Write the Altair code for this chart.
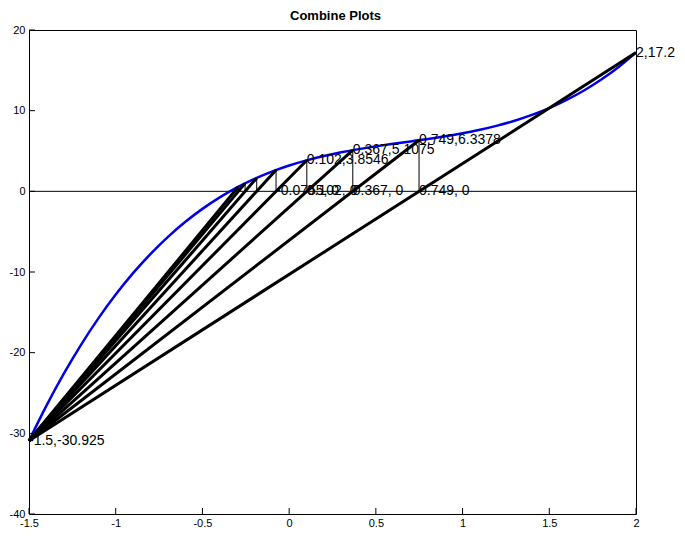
import altair as alt
import pandas as pd

# Blue curve, points
curve_x = [-1.5, -1.4, -1.3, -1.2, -1.1, -1.0, -0.9, -0.8, -0.7, -0.6, -0.5, -0.4,
           -0.3, -0.2, -0.1, 0.0, 0.1, 0.2, 0.3, 0.4, 0.5, 0.6, 0.7, 0.8, 0.9, 1.0,
           1.1, 1.2, 1.3, 1.4, 1.5, 1.6, 1.7, 1.8, 1.9, 2.0]
curve_y = [-30.925, -26.592, -22.631, -19.024, -15.753, -12.8, -10.147, -7.776,
           -5.669, -3.808, -2.175, -0.752, 0.479, 1.536, 2.437, 3.2, 3.843, 4.384,
           4.841, 5.232, 5.575, 5.888, 6.189, 6.496, 6.827, 7.2, 7.633, 8.144, 8.751,
           9.472, 10.325, 11.328, 12.499, 13.856, 15.417, 17.2]

# Secant lines from the fixed end point to each successive point
anchor_x = -1.5
anchor_y = -30.925
secant_bx = [2.0, 0.749, 0.367, 0.102, -0.0755, -0.187, -0.254, -0.293]
secant_by = [17.2, 6.3378, 5.1075, 3.8546, 2.636, 1.658, 0.984, 0.563]

# Vertical drop lines at each root estimate
root_x = [0.749, 0.367, 0.102, -0.0755, -0.187, -0.254, -0.293]
root_y = [6.3378, 5.1075, 3.8546, 2.636, 1.658, 0.984, 0.563]

# Text labels
label_x = [2.0, -1.5, 0.749, 0.367, 0.102, 0.749, 0.367, 0.102, -0.0755]
label_y = [17.2, -30.925, 6.3378, 5.1075, 3.8546, 0, 0, 0, 0]
label_text = ["2,17.2", "-1.5,-30.925", "0.749,6.3378", "0.367,5.1075",
              "0.102,3.8546", "0.749, 0", "0.367, 0", "0.102, 0", "-0.0755, 0"]

title_text = ["Combine Plots"]

x_ticks = [-1.5, -1.0, -0.5, 0.0, 0.5, 1.0, 1.5, 2.0]
y_ticks = [-40, -30, -20, -10, 0, 10, 20]

W, H = 607, 484
FONT = "Liberation Sans"

xs = alt.Scale(domain=[-1.5, 2], nice=False)
ys = alt.Scale(domain=[-40, 20], nice=False)

curve_df = pd.DataFrame({"x": curve_x, "y": curve_y})
sec_df = pd.DataFrame({"x": [anchor_x] * len(secant_bx), "y": [anchor_y] * len(secant_bx),
                       "x2": secant_bx, "y2": secant_by})
root_df = pd.DataFrame({"x": root_x, "y": [0] * len(root_x), "y2": root_y})
lab_df = pd.DataFrame({"x": label_x, "y": label_y, "t": label_text})
xt_df = pd.DataFrame({"x": x_ticks})
yt_df = pd.DataFrame({"y": y_ticks})
zero_df = pd.DataFrame({"y": [0]})
title_df = pd.DataFrame({"t": title_text})

xaxis = alt.Axis(values=x_ticks, ticks=False, domain=False, grid=False, labelFontSize=11,
                 labelPadding=3, labelFlush=False, labelColor="black", labelFont=FONT,
                 title=None, labelExpr="'' + datum.value")
yaxis = alt.Axis(values=y_ticks, ticks=False, domain=False, grid=False, labelFontSize=11,
                 labelPadding=4, labelFlush=False, labelColor="black", labelFont=FONT,
                 title=None, labelExpr="'' + datum.value")

base_x = alt.X("x:Q", scale=xs, axis=xaxis)
base_y = alt.Y("y:Q", scale=ys, axis=yaxis)

zero = alt.Chart(zero_df).mark_rule(color="black", strokeWidth=1).encode(
    y=alt.Y("y:Q", scale=ys, axis=yaxis), x=alt.value(0), x2=alt.value(W))

curve = alt.Chart(curve_df).mark_line(color="#0000e6", strokeWidth=2.5,
                                      interpolate="monotone").encode(x=base_x, y=base_y)

secants = alt.Chart(sec_df).mark_rule(color="black", strokeWidth=3).encode(
    x=base_x, y=base_y, x2="x2:Q", y2="y2:Q")

roots = alt.Chart(root_df).mark_rule(color="black", strokeWidth=1).encode(
    x=base_x, y=base_y, y2="y2:Q")

labels = alt.Chart(lab_df).mark_text(align="left", baseline="middle", fontSize=14,
                                     font=FONT, color="black").encode(
    x=base_x, y=base_y, text="t:N")

xt = alt.Chart(xt_df).mark_rule(color="black", strokeWidth=1).encode(
    x=base_x, y=alt.value(H), y2=alt.value(H - 6))
yt = alt.Chart(yt_df).mark_rule(color="black", strokeWidth=1).encode(
    y=base_y, x=alt.value(0), x2=alt.value(6))

title = alt.Chart(title_df).mark_text(align="center", baseline="alphabetic", fontSize=13,
                                      fontWeight="bold", font=FONT, color="black").encode(
    x=alt.value(W / 2 + 3), y=alt.value(-10), text="t:N")

chart = alt.layer(zero, curve, secants, roots, labels, xt, yt, title).properties(
    width=W, height=H,
    autosize=alt.AutoSizeParams(type="none"),
    padding={"left": 21, "top": 22, "right": 40, "bottom": 14},
).configure_view(stroke="black", strokeWidth=1)

chart.save("out.html", embed_options={"renderer": "svg", "actions": False})
